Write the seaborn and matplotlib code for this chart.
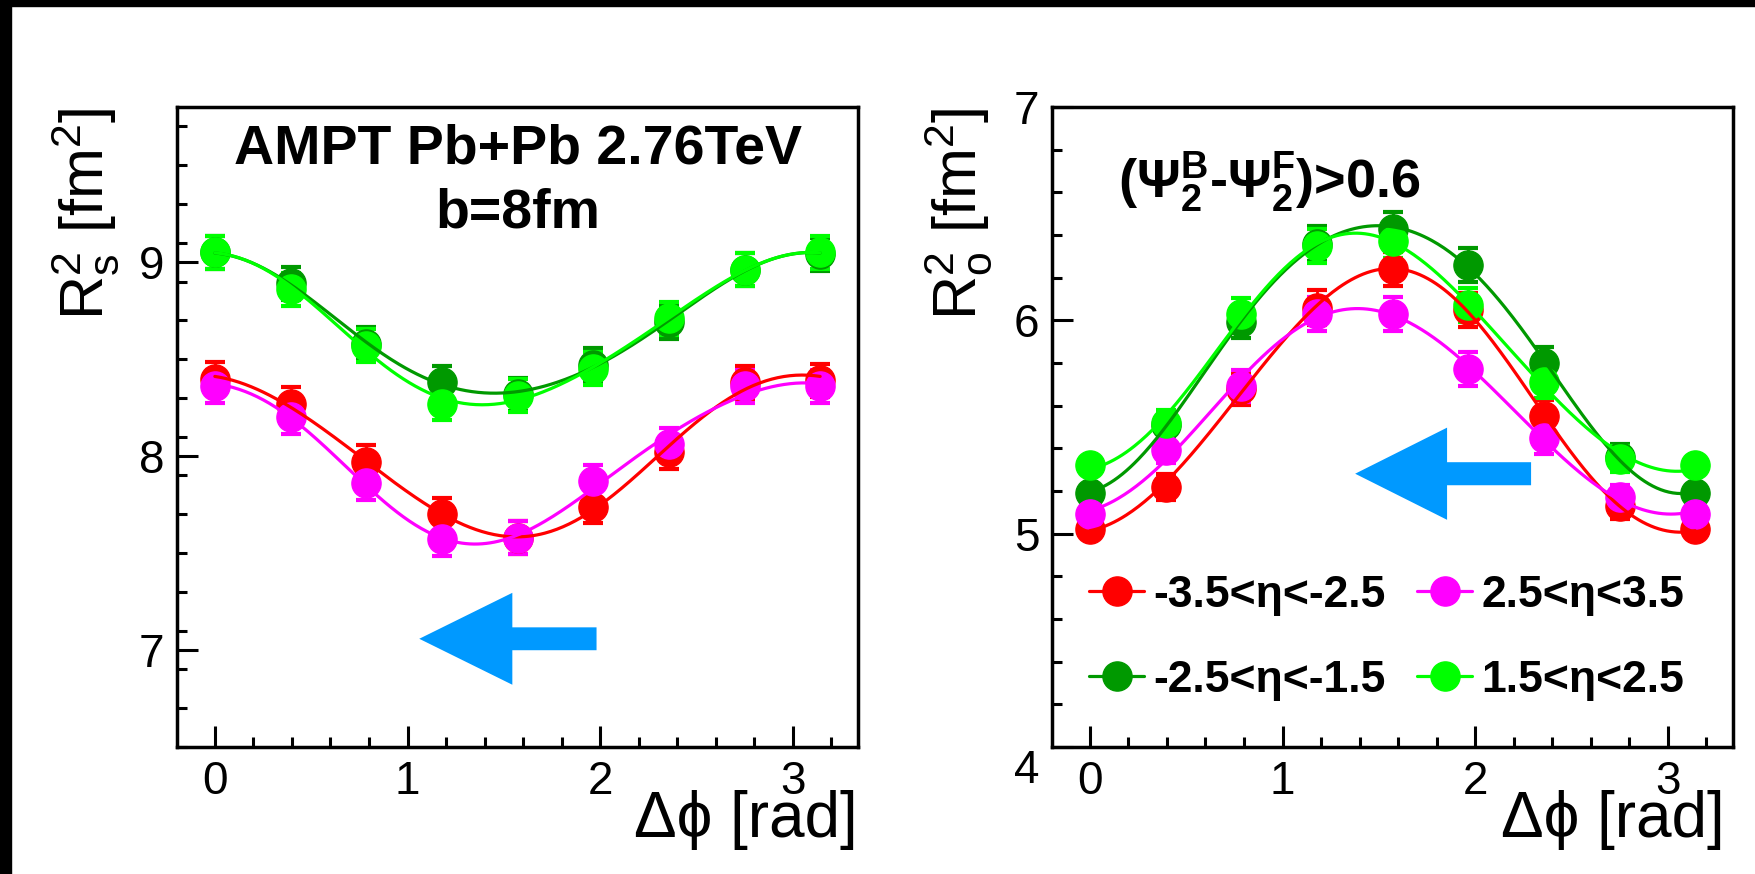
import numpy as np
import pandas as pd
import matplotlib
matplotlib.use("Agg")
import matplotlib.pyplot as plt
import matplotlib.transforms as mtransforms
import seaborn as sns
from matplotlib.patches import Rectangle, FancyArrow
from matplotlib.lines import Line2D

# ---------------- data ----------------
dphi = np.arange(9) * np.pi / 8          # 0 ... pi in steps of pi/8

# side radius squared, R_s^2 [fm^2]
rs2_m35_m25 = [8.40, 8.27, 7.97, 7.70, 7.58, 7.74, 8.02, 8.38, 8.39]
rs2_m25_m15 = [9.05, 8.89, 8.58, 8.38, 8.32, 8.47, 8.69, 8.96, 9.04]
rs2_p25_p35 = [8.36, 8.20, 7.86, 7.57, 7.58, 7.87, 8.06, 8.36, 8.36]
rs2_p15_p25 = [9.05, 8.86, 8.57, 8.27, 8.31, 8.45, 8.71, 8.96, 9.05]
rs2_err = [0.085, 0.085, 0.085, 0.085, 0.085, 0.085, 0.085, 0.085, 0.085]

# out radius squared, R_o^2 [fm^2]
ro2_m35_m25 = [5.02, 5.22, 5.68, 6.06, 6.24, 6.05, 5.55, 5.13, 5.02]
ro2_m25_m15 = [5.19, 5.51, 5.99, 6.36, 6.43, 6.26, 5.80, 5.36, 5.19]
ro2_p25_p35 = [5.09, 5.39, 5.69, 6.03, 6.03, 5.77, 5.45, 5.17, 5.09]
ro2_p15_p25 = [5.32, 5.52, 6.03, 6.35, 6.37, 6.07, 5.71, 5.35, 5.32]
ro2_err = [0.04, 0.06, 0.075, 0.08, 0.08, 0.08, 0.075, 0.06, 0.04]

labels = ["-3.5<\u03b7<-2.5", "-2.5<\u03b7<-1.5", "2.5<\u03b7<3.5", "1.5<\u03b7<2.5"]
colors = ["#ff0000", "#009900", "#ff00ff", "#00ff00"]

# ---------------- style ----------------
sns.set_theme(style="white")
SANS = "Liberation Sans"
plt.rcParams["font.family"] = [SANS, "DejaVu Sans"]
plt.rcParams["mathtext.fontset"] = "custom"
plt.rcParams["mathtext.rm"] = SANS
plt.rcParams["mathtext.it"] = SANS + ":italic"
plt.rcParams["mathtext.bf"] = SANS + ":bold"
for key in ["text.color", "axes.labelcolor", "xtick.color", "ytick.color",
            "axes.edgecolor"]:
    plt.rcParams[key] = "black"

W, H = 1755, 874
fig = plt.figure(figsize=(W / 100, H / 100), dpi=100, facecolor="white")

# dark border strips along the top and left edges
fig.patches.append(Rectangle((0, 1 - 6 / H), 1, 6 / H, transform=fig.transFigure,
                             color="black", zorder=0))
fig.patches.append(Rectangle((0, 0), 11 / W, 1, transform=fig.transFigure,
                             color="black", zorder=0))


def px_axes(l, r, t, b):
    return fig.add_axes([l / W, 1 - b / H, (r - l) / W, (b - t) / H])


axL = px_axes(177, 858, 107, 747)
axR = px_axes(1052, 1733, 107, 747)

XLIM = (-np.pi / 16, 17 * np.pi / 16)


def harmonic_fit(x, y, xs):
    def basis(t):
        t = np.asarray(t)
        return np.column_stack([np.ones_like(t), np.cos(2 * t), np.sin(2 * t),
                                np.cos(4 * t), np.sin(4 * t)])
    coef, *_ = np.linalg.lstsq(basis(x), np.asarray(y), rcond=None)
    return basis(xs) @ coef


def draw_panel(ax, series, err, ylim, yticks):
    xs = np.linspace(0, np.pi, 300)
    fits = []
    for vals, lab, col in zip(series, labels, colors):
        ax.errorbar(dphi, vals, yerr=err, fmt="o", color=col, ms=21,
                    mec=col, elinewidth=2.0, capsize=7, capthick=3, zorder=3)
        fits.append(pd.DataFrame({"dphi": xs, "R2": harmonic_fit(dphi, vals, xs),
                                  "bin": lab}))
    fitdf = pd.concat(fits, ignore_index=True)
    sns.lineplot(data=fitdf, x="dphi", y="R2", hue="bin", hue_order=labels,
                 palette=colors, linewidth=2.3, legend=False, ax=ax, zorder=4)
    ax.set_xlim(*XLIM)
    ax.set_ylim(*ylim)
    ax.set_xticks([0, 1, 2, 3])
    ax.set_xticks(np.arange(0.2, 3.3, 0.2), minor=True)
    ax.set_yticks(yticks)
    ax.set_yticks(np.arange(ylim[0], ylim[1] + 1e-6, 0.2), minor=True)
    ax.tick_params(which="both", direction="in", bottom=True, left=True,
                   top=False, right=False, width=2.2, color="black",
                   labelsize=33, labelcolor="black")
    ax.tick_params(which="major", length=15)
    ax.tick_params(which="minor", length=7.5)
    ax.tick_params(axis="y", pad=9)
    ax.tick_params(axis="x", pad=9)
    ax.set_xlabel("")
    ax.set_ylabel("")
    for sp in ax.spines.values():
        sp.set_visible(True)
        sp.set_color("black")
        sp.set_linewidth(2.5)
    ax.set_facecolor("white")


draw_panel(axL, [rs2_m35_m25, rs2_m25_m15, rs2_p25_p35, rs2_p15_p25], rs2_err,
           (6.5, 9.8), [7, 8, 9])
draw_panel(axR, [ro2_m35_m25, ro2_m25_m15, ro2_p25_p35, ro2_p15_p25], ro2_err,
           (4.0, 7.0), [4, 5, 6, 7])

# the lowest label of the right panel sits a little below its tick
low_tick = axR.yaxis.get_major_ticks()[0]
low_tick.label1.set_transform(
    low_tick.label1.get_transform()
    + mtransforms.ScaledTranslation(0, -14 / 72, fig.dpi_scale_trans))

# axis titles
fig.text(85 / W, 1 - 107 / H, r"R$_{\mathrm{s}}^{2}$ [fm$^{2}$]", rotation=90,
         ha="center", va="top", fontsize=44)
fig.text(958 / W, 1 - 107 / H, r"R$_{\mathrm{o}}^{2}$ [fm$^{2}$]", rotation=90,
         ha="center", va="top", fontsize=44)
fig.text(858 / W, 1 - 820 / H, "\u0394\u03d5 [rad]", ha="right", va="center",
         fontsize=46, family=[SANS, "DejaVu Sans"])
fig.text(1725 / W, 1 - 820 / H, "\u0394\u03d5 [rad]", ha="right", va="center",
         fontsize=46, family=[SANS, "DejaVu Sans"])

# panel annotations
axL.text(0.5, 0.933, "AMPT Pb+Pb 2.76TeV", transform=axL.transAxes,
         ha="center", va="center", fontsize=40, fontweight="bold")
axL.text(0.5, 0.834, "b=8fm", transform=axL.transAxes,
         ha="center", va="center", fontsize=40, fontweight="bold")
axR.text(0.097, 0.883,
         "(\u03a8" + r"$_{\mathbf{2}}^{\mathbf{B}}$" + "-\u03a8"
         + r"$_{\mathbf{2}}^{\mathbf{F}}$" + ")>0.6",
         transform=axR.transAxes, ha="left", va="center", fontsize=39,
         fontweight="bold")

# direction arrows
axL.add_patch(FancyArrow(1.981, 7.058, 1.061 - 1.981, 0, width=0.118,
                         head_width=0.474, head_length=0.483,
                         length_includes_head=True, color="#0099ff", lw=0, zorder=2))
axR.add_patch(FancyArrow(2.290, 5.281, 1.377 - 2.290, 0, width=0.108,
                         head_width=0.432, head_length=0.477,
                         length_includes_head=True, color="#0099ff", lw=0, zorder=2))

# legend: two columns, red/dark green on the left, magenta/light green on the right
handles = [Line2D([], [], color=c, marker="o", ms=21, lw=2.3) for c in colors]
axR.legend(handles, labels, ncol=2, loc="upper left",
           bbox_to_anchor=(1089 / W, 1 - 575 / H), bbox_transform=fig.transFigure,
           frameon=False, borderpad=0, borderaxespad=0,
           handlelength=1.24, handletextpad=0.2, columnspacing=0.72,
           labelspacing=0.98,
           prop={"family": [SANS, "DejaVu Sans"], "weight": "bold", "size": 32})

fig.savefig("out.png", dpi=100, facecolor="white")
